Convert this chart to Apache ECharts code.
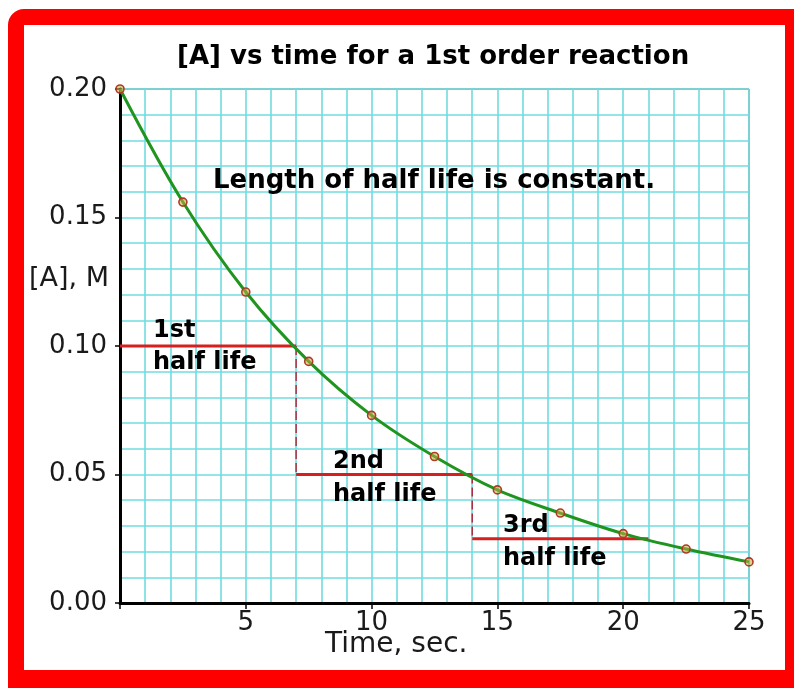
<!DOCTYPE html>
<html>
<head>
<meta charset="utf-8">
<script src="https://cdn.jsdelivr.net/npm/echarts@6/dist/echarts.min.js"></script>
<style>
html,body{margin:0;padding:0;background:#fff;}
#c{width:794px;height:688px;}
</style>
</head>
<body>
<div id="c"></div>
<script>
// ---- data ----
const times = [0, 2.5, 5, 7.5, 10, 12.5, 15, 17.5, 20, 22.5, 25];
const conc = [0.200, 0.156, 0.121, 0.094, 0.073, 0.057, 0.044, 0.035, 0.027, 0.021, 0.016];
const halfLifeTimes = [0, 7, 14, 21];
const halfLifeLevels = [0.10, 0.05, 0.025];
const halfLifeOrdinals = ['1st', '2nd', '3rd'];
const xTickLabels = [5, 10, 15, 20, 25];
const yTickLabels = [0.00, 0.05, 0.10, 0.15, 0.20];
const titleText = '[A] vs time for a 1st order reaction';
const noteText = 'Length of half life is constant.';
const yName = '[A], M';
const xName = 'Time, sec.';

const chart = echarts.init(document.getElementById('c'), null, {renderer: 'canvas'});

const curveData = times.map((t, i) => [t, conc[i]]);
const series = [];
for (let i = 0; i < halfLifeLevels.length; i++) {
  series.push({
    type: 'line', z: 2, silent: true, symbol: 'none',
    data: [[halfLifeTimes[i], halfLifeLevels[i]], [halfLifeTimes[i + 1], halfLifeLevels[i]]],
    lineStyle: {color: '#d81f1f', width: 3.2}
  });
  if (i + 1 < halfLifeLevels.length) {
    series.push({
      type: 'line', z: 2, silent: true, symbol: 'none',
      data: [[halfLifeTimes[i + 1], halfLifeLevels[i]], [halfLifeTimes[i + 1], halfLifeLevels[i + 1]]],
      lineStyle: {color: '#a83040', width: 1.5, type: [9, 4]}
    });
  }
}
series.push({
  type: 'line', z: 3, clip: false, smooth: 0.35,
  data: curveData,
  symbol: 'circle', symbolSize: 8,
  lineStyle: {color: '#1f951f', width: 3},
  itemStyle: {color: 'rgba(200,170,60,0.55)', borderColor: '#b03a25', borderWidth: 1.6}
});

const font = (size, bold) => (bold ? 'bold ' : '') + size + 'px "DejaVu Sans", sans-serif';
const graphics = [
  {type: 'rect', z: -100, shape: {x: 8, y: 9, width: 786, height: 679, r: [16, 0, 0, 0]}, style: {fill: '#ff0000'}},
  {type: 'rect', z: -99, shape: {x: 24, y: 25, width: 761, height: 645}, style: {fill: '#ffffff'}},
  {type: 'text', z: 10, x: 213, y: 181, style: {text: noteText, font: font(26, true), fill: '#000', align: 'left', verticalAlign: 'middle'}},
  {type: 'text', z: 10, x: 29, y: 279, style: {text: yName, font: font(27, false), fill: '#1a1a1a', align: 'left', verticalAlign: 'middle'}},
  {type: 'text', z: 10, x: 325, y: 645, style: {text: xName, font: font(28, false), fill: '#1a1a1a', align: 'left', verticalAlign: 'middle'}}
];
const labelPos = [[153, 331, 363], [333, 462, 495], [503, 526, 559]];
halfLifeOrdinals.forEach((o, i) => {
  graphics.push({type: 'text', z: 10, x: labelPos[i][0], y: labelPos[i][1], style: {text: o, font: font(24, true), fill: '#000', align: 'left', verticalAlign: 'middle'}});
  graphics.push({type: 'text', z: 10, x: labelPos[i][0], y: labelPos[i][2], style: {text: 'half life', font: font(24, true), fill: '#000', align: 'left', verticalAlign: 'middle'}});
});

const gridLine = {show: true, lineStyle: {color: '#6fdcdf', width: 1.6}};

chart.setOption({
  animation: false,
  backgroundColor: 'transparent',
  title: {
    text: titleText, left: 177, top: 44, padding: 0,
    textStyle: {fontFamily: '"DejaVu Sans", sans-serif', fontWeight: 'bold', fontSize: 26, color: '#000'}
  },
  graphic: {elements: graphics},
  grid: {
    left: 120, top: 89, right: 45, bottom: 85, containLabel: false,
    show: true, backgroundColor: '#ffffff', borderColor: '#555', borderWidth: 1
  },
  xAxis: {
    type: 'value', min: 0, max: 25, interval: 5,
    axisLine: {show: true, onZero: false, lineStyle: {color: '#000', width: 3}},
    axisTick: {show: true, length: 6, lineStyle: {color: '#000', width: 1.5}},
    minorTick: {show: false, splitNumber: 5},
    splitLine: gridLine,
    minorSplitLine: gridLine,
    axisLabel: {
      margin: 7, fontFamily: '"DejaVu Sans", sans-serif', fontSize: 26, color: '#1a1a1a',
      formatter: v => (xTickLabels.indexOf(v) >= 0 ? String(v) : '')
    }
  },
  yAxis: {
    type: 'value', min: 0, max: 0.2, interval: 0.05,
    axisLine: {show: true, onZero: false, lineStyle: {color: '#000', width: 3}},
    axisTick: {show: true, length: 5, lineStyle: {color: '#000', width: 1.5}},
    minorTick: {show: false, splitNumber: 5},
    splitLine: gridLine,
    minorSplitLine: gridLine,
    axisLabel: {
      margin: 13, fontFamily: '"DejaVu Sans", sans-serif', fontSize: 26, color: '#1a1a1a',
      formatter: v => {
        const m = yTickLabels.find(t => Math.abs(t - v) < 1e-9);
        return m === undefined ? '' : m.toFixed(2);
      }
    }
  },
  series: series
});
</script>
</body>
</html>
